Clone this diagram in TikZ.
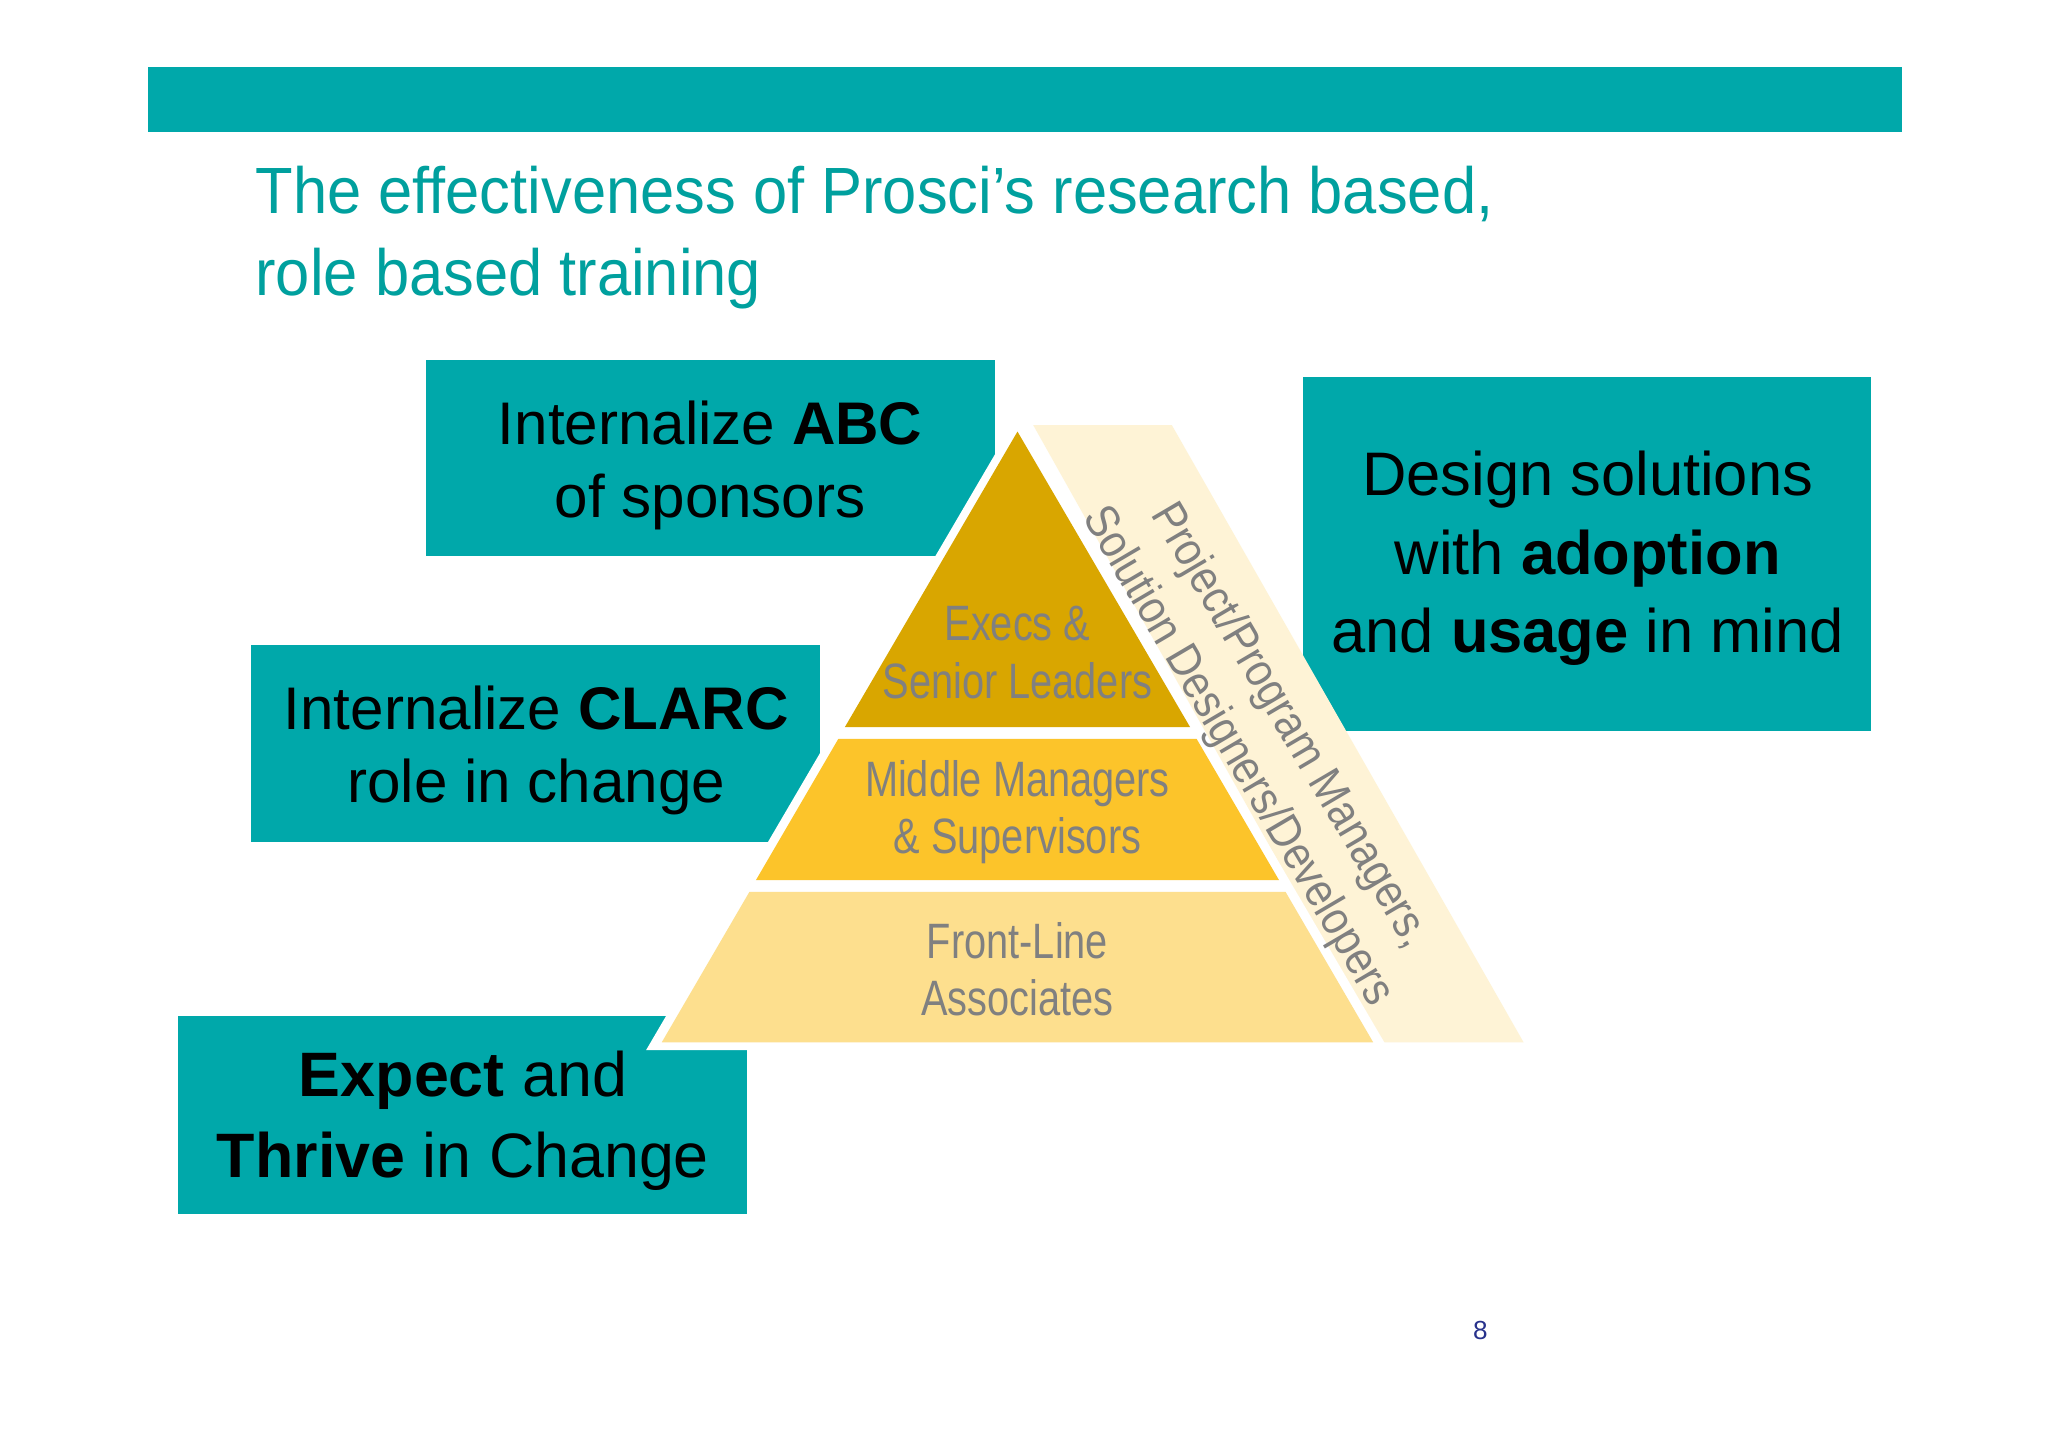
\documentclass[tikz,border=0pt]{standalone}
\usepackage{fontspec}
\setmainfont{Liberation Sans}
\begin{document}
\begin{tikzpicture}[x=0.5pt,y=-0.5pt,
  box/.style={fill=teal1,draw=none},
  btext/.style={align=center,font=\fontsize{23}{28}\selectfont,text=black},
  ptext/.style={align=center,text=gray1,font=\fontsize{19}{22}\selectfont,xscale=0.8}]
\definecolor{teal1}{RGB}{0,168,170}
\definecolor{teal2}{RGB}{0,160,158}
\definecolor{gold1}{RGB}{217,166,0}
\definecolor{gold2}{RGB}{252,196,42}
\definecolor{gold3}{RGB}{253,223,142}
\definecolor{cream}{RGB}{254,243,214}
\definecolor{gray1}{RGB}{128,128,128}
\definecolor{navy}{RGB}{40,50,140}
\useasboundingbox (0,0) rectangle (1566,1107);
\fill[white] (0,0) rectangle (1566,1107);
\fill[teal1] (113,51) rectangle (1454,101);
\node[anchor=base west,inner sep=0,text=teal2,font=\fontsize{25}{30}\selectfont,xscale=0.94] (title) at (195,163) {The effectiveness of Prosci’s research based,};
\node[anchor=base west,inner sep=0,text=teal2,font=\fontsize{25}{30}\selectfont,xscale=0.94] (title2) at (195,226) {role based training};
% boxes
\fill[box] (326,275) rectangle (761,425);
\fill[box] (192,493) rectangle (627,644);
\fill[box] (136,777) rectangle (571,928);
\fill[box] (996,288) rectangle (1431,559);
% band
\fill[cream] (790,325) -- (896,325) -- (1165,797) -- (1055,797) -- cycle;
% pyramid white border
\fill[white] (778,318) -- (1062,803) -- (494,803) -- cycle;
\fill[gold1] (778,330) -- (910,556) -- (646,556) -- cycle;
\fill[gold2] (641,565) -- (915,565) -- (978,673) -- (578,673) -- cycle;
\fill[gold3] (573,682) -- (983,682) -- (1050,797) -- (506,797) -- cycle;
% texts
\node[btext] (abc) at (543,356) {Internalize \textbf{ABC}\\of sponsors};
\node[btext] (clarc) at (410,574) {Internalize \textbf{CLARC}\\role in change};
\node[btext,font=\fontsize{24}{31}\selectfont] (exp) at (354,857) {\textbf{Expect} and\\\textbf{Thrive} in Change};
\node[btext,font=\fontsize{23.5}{30}\selectfont] (des) at (1214,427) {Design solutions\\with \textbf{adoption}\\and \textbf{usage} in mind};
\node[ptext] (ex) at (778,499) {Execs \&\\Senior Leaders};
\node[ptext] (mm) at (778,621) {Middle Managers\\\& Supervisors};
\node[ptext] (fl) at (778,741) {Front-Line\\Associates};
\node[text=gray1,font=\fontsize{18}{23}\selectfont,rotate=-59.5,align=center,xscale=0.88] (pm) at (966,567) {Project/Program Managers,\\Solution Designers/Developers};
\node[text=navy,font=\fontsize{10}{12}\selectfont] (pg) at (1132,1017) {8};
\end{tikzpicture}
\end{document}
